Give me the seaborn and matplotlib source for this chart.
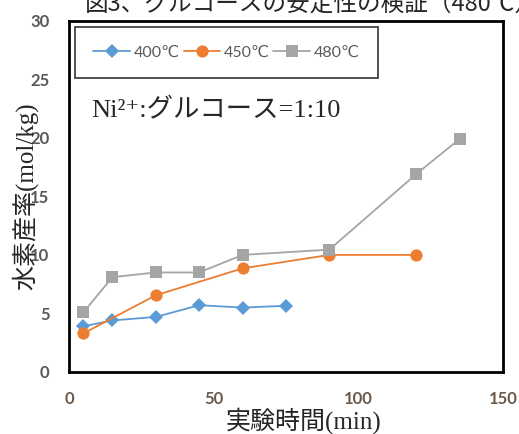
import pandas as pd
import matplotlib
matplotlib.use('Agg')
import matplotlib.pyplot as plt
import seaborn as sns

# data
t_400 = [5, 15, 30, 45, 60, 75]
y_400 = [3.9, 4.4, 4.7, 5.7, 5.5, 5.65]
t_450 = [5, 30, 60, 90, 120]
y_450 = [3.3, 6.55, 8.85, 10.0, 10.0]
t_480 = [5, 15, 30, 45, 60, 90, 120, 135]
y_480 = [5.1, 8.1, 8.5, 8.5, 10.0, 10.45, 16.9, 19.9]
series = ['400℃', '450℃', '480℃']
x_ticks = [0, 50, 100, 150]
y_ticks = [0, 5, 10, 15, 20, 25, 30]

df = pd.concat([
    pd.DataFrame({'t': t_400, 'y': y_400, 'temp': series[0]}),
    pd.DataFrame({'t': t_450, 'y': y_450, 'temp': series[1]}),
    pd.DataFrame({'t': t_480, 'y': y_480, 'temp': series[2]}),
])

sns.set_style('white')
plt.rcParams['font.family'] = ['DejaVu Sans', 'Noto Sans CJK JP']

palette = {'400℃': '#5B9BD5', '450℃': '#ED7D31', '480℃': '#A5A5A5'}
markers = {'400℃': 'D', '450℃': 'o', '480℃': 's'}
msizes = {'400℃': 7, '450℃': 8.8, '480℃': 9.3}
serif_jp = ['Liberation Serif', 'DejaVu Serif', 'Noto Sans CJK JP']

fig = plt.figure(figsize=(5.19, 4.34), dpi=100)
ax = fig.add_axes([0.133, 0.143, 0.836, 0.809])
sns.lineplot(data=df, x='t', y='y', hue='temp', style='temp', palette=palette,
             markers=markers, dashes=False, markeredgewidth=0,
             linewidth=1.3, sort=False, legend=False, ax=ax)
for line, name in zip(ax.lines, series):
    line.set_markersize(msizes[name])
    line.set_label(name)

ax.set_xlim(0, 150)
ax.set_ylim(0, 30)
ax.set_xticks(x_ticks)
ax.set_yticks(y_ticks)
ax.tick_params(length=0, pad=14)
tick_font = dict(family=['Lato', 'DejaVu Sans'], weight='bold', size=12)
for lab in ax.get_xticklabels():
    lab.set(color='#6b5a4a', **tick_font)
for lab in ax.get_yticklabels():
    lab.set(color='#595959', **tick_font)
for s in ax.spines.values():
    s.set_visible(True)
    s.set_color('black')
    s.set_linewidth(2)

ax.set_xlabel('実験時間(min)', family=serif_jp, size=18)
ax.xaxis.set_label_coords(0.54, -0.102)
ax.set_ylabel('水素産率(mol/kg)', family=serif_jp, size=18)
ax.yaxis.set_label_coords(-0.07, 0.5)

ax.text(0.05, 0.745, 'Ni²⁺:グルコース=1:10', transform=ax.transAxes,
        family=serif_jp, size=19, va='center')

leg = ax.legend(loc='upper left', bbox_to_anchor=(0.014, 0.982), ncol=3,
                frameon=True, fancybox=False, edgecolor='black',
                handlelength=2.3, columnspacing=0.25,
                handletextpad=0.2, borderpad=1.15, borderaxespad=0,
                prop={'family': ['Lato', 'DejaVu Sans'], 'size': 11.5})
leg.get_frame().set_linewidth(1.2)
for txt in leg.get_texts():
    txt.set_color('#595959')

# title of the source figure, cut off by the top edge
fig.text(0.6, 0.975, '図3、グルコースの安定性の検証（480℃）',
         family=['Noto Sans CJK JP', 'DejaVu Sans'], size=17, ha='center', va='baseline')

fig.savefig('out.png', dpi=100)
